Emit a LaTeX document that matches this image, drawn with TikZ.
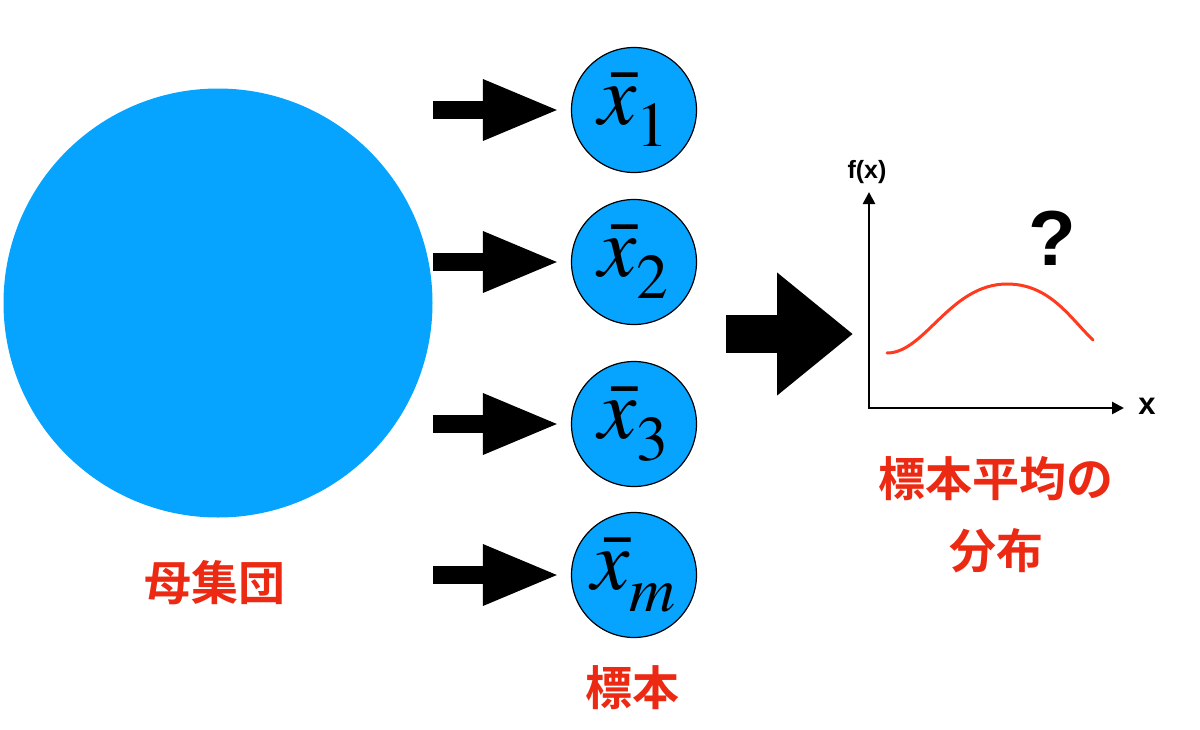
\documentclass[tikz,border=0pt]{standalone}
\usepackage{mathptmx}
\usepackage{fontspec}
\newfontfamily\jpfont{Noto Sans CJK JP}[BoldFont=Noto Sans CJK JP Bold]
\newfontfamily\axisfont{Liberation Sans}
\usetikzlibrary{arrows.meta,positioning,calc}
\definecolor{popblue}{HTML}{06A4FF}
\definecolor{labelred}{HTML}{EC2A14}
\definecolor{curvered}{HTML}{FF3A1E}
\newcommand{\samplemean}[1]{$\bar{x}_{\lower9pt\hbox{$\scriptstyle #1$}}$}
\tikzset{
  population/.style={circle, fill=popblue, minimum size=429pt, inner sep=0pt},
  sample/.style={circle, draw=black, line width=1.2pt, fill=popblue, minimum size=125pt, inner sep=0pt, font=\fontsize{86}{86}\selectfont},
  jlabel/.style={text=labelred, font=\jpfont\bfseries\fontsize{47}{72}\selectfont, align=center},
  smallarrow/.style={line width=18pt, -{Triangle[length=77pt,width=56pt]}},
  bigarrow/.style={line width=38pt, -{Triangle[length=76pt,width=118pt]}},
  axis/.style={line width=2.6pt, {Triangle[length=12pt,width=12pt]}-{Triangle[length=12pt,width=12pt]}},
  axislabel/.style={font=\axisfont\bfseries\fontsize{25}{25}\selectfont},
  curve/.style={draw=curvered, line width=3pt, line cap=round},
}

\begin{document}
\begin{tikzpicture}[x=1pt, y=-1pt]
  \useasboundingbox (0,0) rectangle (1200,729);
  % population and samples
  \node[population] (pop) at (218,303) {};
  \node[jlabel] (poplabel) at (215,583) {母集団};
  \node[sample] (s1) at (634,110) {\samplemean{1}};
  \node[sample] (s2) at (634,262) {\samplemean{2}};
  \node[sample] (s3) at (634,424) {\samplemean{3}};
  \node[sample] (s4) at (634,575) {\samplemean{m}};
  \node[jlabel] (samplelabel) at (632,688) {標本};
  \foreach \s in {s1,s2,s3,s4}
    \draw[smallarrow, shorten >=11pt] ([xshift=-138pt]\s.west) -- (\s.west);
  % distribution
  \coordinate (bigtail) at (726,334);
  \coordinate (bighead) at (853,334);
  \draw[bigarrow] (bigtail) -- (bighead);
  \coordinate (origin) at (869,408);
  \coordinate (ytip) at (869,192);
  \coordinate (xtip) at (1124,408);
  \draw[axis] (ytip) -- (origin) -- (xtip);
  \node[axislabel] (fx) at (867,172) {f(x)};
  \node[axislabel, font=\axisfont\bfseries\fontsize{31}{31}\selectfont] (xlabel) at (1147,406) {x};
  \node[font=\axisfont\bfseries\fontsize{78}{78}\selectfont] (qmark) at (1052,238) {?};
  \draw[curve] (887,353) .. controls (925,353) and (950,284) .. (1007,284)
    .. controls (1050,284) and (1070,318) .. (1093,340);
  \node[jlabel] (distlabel) at (996,515) {標本平均の\\分布};
\end{tikzpicture}
\end{document}
